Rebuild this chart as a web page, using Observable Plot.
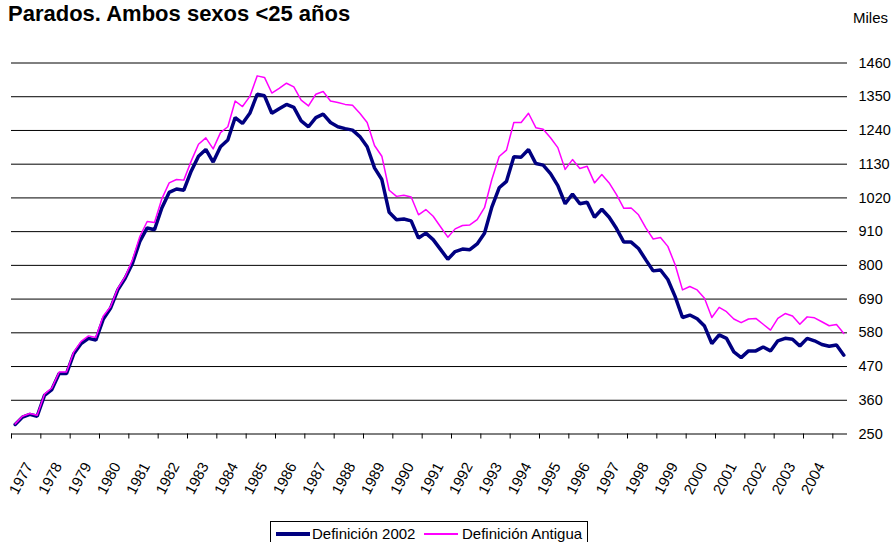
<!DOCTYPE html>
<html>
<head>
<meta charset="utf-8">
<script src="https://cdn.jsdelivr.net/npm/d3@7"></script>
<script src="https://cdn.jsdelivr.net/npm/@observablehq/plot@0.6"></script>
<style>
  html, body { margin: 0; padding: 0; background: #fff; }
  #wrap { position: relative; width: 893px; height: 542px; overflow: hidden; font-family: "Liberation Sans", Arial, sans-serif; color: #000; }
  #title { position: absolute; left: 8px; top: 1px; font-weight: bold; font-size: 22px; line-height: 26px; white-space: nowrap; }
  #units { position: absolute; left: 853px; top: 10px; font-size: 15px; line-height: 15px; }
  #chart { position: absolute; left: 0; top: 0; }
  #legend { position: absolute; left: 270px; top: 521px; width: 316px; height: 40px; border: 1px solid #000; background: #fff; }
  .sw { position: absolute; }
  .lt { position: absolute; font-size: 15px; line-height: 15px; white-space: nowrap; }
</style>
</head>
<body>
<div id="wrap">
  <div id="chart"></div>
  <div id="title">Parados. Ambos sexos &lt;25 años</div>
  <div id="units">Miles</div>
  <div id="legend">
    <div class="sw" style="left:5px; top:10px; width:34px; height:3.5px; background:#000080;"></div>
    <div class="lt" style="left:41px; top:4px;">Definición 2002</div>
    <div class="sw" style="left:153px; top:11px; width:34px; height:1.5px; background:#ff00ff;"></div>
    <div class="lt" style="left:191px; top:4px;">Definición Antigua</div>
  </div>
</div>
<script>
// Series: quarterly values (thousands), 1977-I onwards
const startYear = 1977;
const def2002 = [
  281, 305, 314, 308, 376, 395, 447, 447, 512, 545, 562, 556,
  624, 660, 720, 758, 807, 878, 922, 916, 987, 1038, 1049, 1045,
  1107, 1156, 1178, 1137, 1187, 1209, 1282, 1263, 1296, 1358, 1353, 1296,
  1311, 1325, 1315, 1271, 1252, 1282, 1293, 1266, 1252, 1246, 1241, 1220,
  1187, 1118, 1080, 973, 949, 951, 945, 889, 905, 884, 852, 820,
  845, 853, 851, 870, 905, 990, 1053, 1074, 1154, 1153, 1178, 1132,
  1127, 1099, 1060, 1001, 1033, 1001, 1006, 957, 983, 957, 920, 876,
  876, 855, 818, 782, 785, 754, 698, 630, 638, 626, 602, 545,
  573, 562, 518, 499, 521, 521, 534, 521, 554, 562, 559, 537,
  562, 554, 542, 536, 540, 507
];
const antigua = [
  283, 308, 317, 311, 380, 400, 452, 452, 518, 552, 570, 565,
  634, 665, 725, 763, 818, 894, 943, 940, 1017, 1069, 1080, 1078,
  1140, 1195, 1216, 1180, 1233, 1252, 1336, 1318, 1351, 1418, 1413, 1362,
  1377, 1394, 1382, 1339, 1320, 1358, 1367, 1336, 1331, 1325, 1322, 1296,
  1266, 1191, 1156, 1045, 1025, 1029, 1023, 965, 982, 960, 926, 892,
  919, 930, 932, 949, 988, 1080, 1155, 1176, 1266, 1266, 1296, 1249,
  1244, 1216, 1184, 1113, 1145, 1116, 1123, 1069, 1096, 1069, 1031, 986,
  987, 965, 922, 886, 891, 862, 802, 720, 731, 720, 693, 630,
  663, 649, 625, 613, 625, 627, 608, 589, 627, 643, 635, 608,
  632, 629, 616, 603, 607, 578
];
const yearLabels = [1977,1978,1979,1980,1981,1982,1983,1984,1985,1986,1987,1988,1989,1990,
  1991,1992,1993,1994,1995,1996,1997,1998,1999,2000,2001,2002,2003,2004];
const tickYears = [...yearLabels, 2005];
const yTicks = [250,360,470,580,690,800,910,1020,1130,1240,1350,1460];

// quarter category centre on a continuous year axis
const rows = def2002.map((v, i) => ({t: startYear + (i + 0.5) / 4, v2002: v, antigua: antigua[i]}));

const chart = Plot.plot({
  width: 893,
  height: 542,
  marginLeft: 11,
  marginRight: 46,
  marginTop: 62.5,
  marginBottom: 108.5,
  x: {domain: [1977, 2005.5]},
  y: {domain: [250, 1460]},
  style: {fontFamily: "'Liberation Sans', Arial, sans-serif", background: "transparent", color: "#000"},
  marks: [
    Plot.ruleY(yTicks, {stroke: "#000", strokeWidth: 1}),
    Plot.axisY(yTicks, {anchor: "right", tickSize: 0, tickPadding: 11, fontSize: 14.5, label: null, tickFormat: d => String(d)}),
    Plot.axisX(tickYears, {tickSize: 5, tickFormat: () => "", label: null, stroke: "#000"}),
    Plot.text(yearLabels, {x: d => d + 0.5, frameAnchor: "bottom", text: d => String(d), rotate: -62, textAnchor: "end", dy: 32, dx: 7, fontSize: 15, fill: "#000"}),
    Plot.line(rows, {x: "t", y: "v2002", stroke: "#000080", strokeWidth: 3.5, strokeLinejoin: "miter"}),
    Plot.line(rows, {x: "t", y: "antigua", stroke: "#ff00ff", strokeWidth: 1.5})
  ]
});
document.getElementById("chart").appendChild(chart);
</script>
</body>
</html>
